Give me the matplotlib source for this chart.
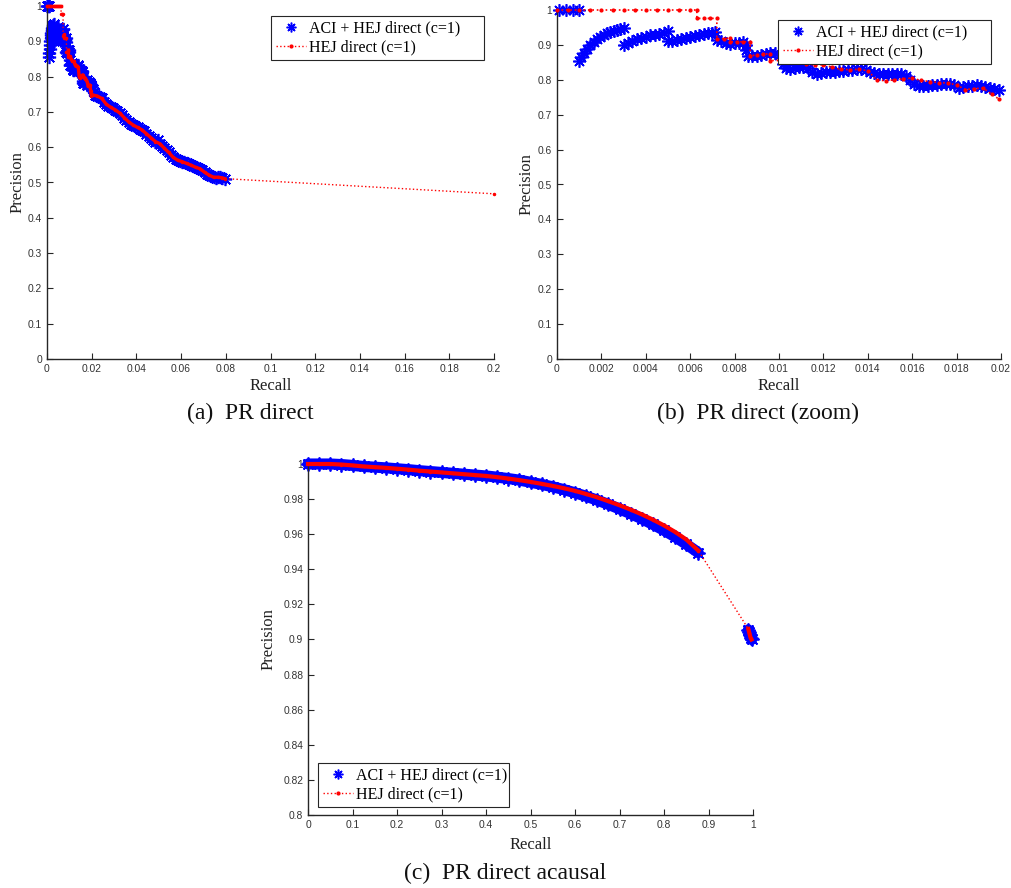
import numpy as np
import matplotlib
matplotlib.use('Agg')
import matplotlib.pyplot as plt
from matplotlib.lines import Line2D
from matplotlib.ticker import FuncFormatter

# ---------------- data ----------------
# PR direct : ACI + HEJ direct (c=1)
recall_direct_aci = [
    0.0001, 0.0004, 0.0007, 0.0010,
    0.0010, 0.0011, 0.0012, 0.00135, 0.0015, 0.00165, 0.0018, 0.00195, 0.0021, 0.00225, 0.0024, 0.00255, 0.0027, 0.00285, 0.0030,
    0.0030, 0.0032, 0.0034, 0.0036, 0.0038, 0.0040, 0.0042, 0.0044, 0.0046, 0.0048, 0.0050,
    0.0050, 0.0052, 0.0054, 0.0056, 0.0058, 0.0060, 0.0062, 0.0064, 0.0066, 0.0068, 0.0070, 0.0071,
    0.0072, 0.0074, 0.0076, 0.0078, 0.0080, 0.0082, 0.0084, 0.0085, 0.0085, 0.0086, 0.0088, 0.0090, 0.0092, 0.0094, 0.0096, 0.0098, 0.0100,
    0.0102, 0.0103, 0.0105, 0.0107, 0.0109, 0.0111, 0.0113, 0.0115, 0.0117, 0.0119,
    0.0121, 0.0123, 0.0125, 0.0127, 0.0129, 0.0131, 0.0133, 0.0135, 0.0137, 0.0139,
    0.0141, 0.0143, 0.0145, 0.0147, 0.0149, 0.0151, 0.0153, 0.0155, 0.0157, 0.0159,
    0.0161, 0.0163, 0.0165, 0.0167, 0.0169, 0.0171, 0.0173, 0.0175, 0.0177, 0.0179,
    0.0181, 0.0183, 0.0185, 0.0187, 0.0189, 0.0191, 0.0193, 0.0195, 0.0197, 0.0199,
    0.0205, 0.0210, 0.0215, 0.0225, 0.0235, 0.0245, 0.0255, 0.0265, 0.0275, 0.0285,
    0.0295, 0.0305, 0.0315, 0.0325, 0.0335, 0.0345, 0.0355, 0.0365, 0.0375, 0.0385,
    0.0395, 0.0405, 0.0415, 0.0425, 0.0435, 0.0445, 0.0455, 0.0465, 0.0475, 0.0485,
    0.0495, 0.0505, 0.0515, 0.0525, 0.0535, 0.0545, 0.0555, 0.0565, 0.0575, 0.0585,
    0.0595, 0.0605, 0.0615, 0.0625, 0.0635, 0.0645, 0.0655, 0.0665, 0.0675, 0.0685,
    0.0695, 0.0705, 0.0715, 0.0725, 0.0735, 0.0745, 0.0755, 0.0765, 0.0775, 0.0785, 0.0795,
]
precision_direct_aci = [
    1.0, 1.0, 1.0, 1.0,
    0.855, 0.866, 0.877, 0.889, 0.900, 0.909, 0.917, 0.923, 0.929, 0.933, 0.937, 0.940, 0.943, 0.945, 0.948,
    0.900, 0.906, 0.912, 0.917, 0.921, 0.924, 0.927, 0.929, 0.931, 0.933, 0.940,
    0.911, 0.912, 0.915, 0.917, 0.919, 0.922, 0.925, 0.928, 0.931, 0.933, 0.935, 0.936,
    0.915, 0.910, 0.905, 0.904, 0.905, 0.906, 0.908, 0.899, 0.886, 0.869, 0.867, 0.869, 0.871, 0.873, 0.876, 0.876, 0.871,
    0.846, 0.834, 0.832, 0.835, 0.837, 0.838, 0.833, 0.822, 0.818, 0.819,
    0.821, 0.822, 0.823, 0.825, 0.826, 0.827, 0.828, 0.830, 0.832, 0.829,
    0.822, 0.819, 0.818, 0.818, 0.817, 0.817, 0.816, 0.816, 0.812, 0.800,
    0.788, 0.783, 0.781, 0.782, 0.784, 0.786, 0.787, 0.788, 0.789, 0.785,
    0.776, 0.778, 0.781, 0.783, 0.785, 0.783, 0.780, 0.777, 0.774, 0.772,
    0.765, 0.755, 0.748, 0.745, 0.742, 0.738, 0.728, 0.722, 0.718, 0.713,
    0.710, 0.706, 0.702, 0.697, 0.690, 0.684, 0.678, 0.672, 0.667, 0.663,
    0.659, 0.656, 0.652, 0.649, 0.645, 0.638, 0.632, 0.627, 0.620, 0.616,
    0.620, 0.610, 0.603, 0.597, 0.592, 0.585, 0.578, 0.571, 0.566, 0.563,
    0.561, 0.559, 0.557, 0.554, 0.551, 0.549, 0.546, 0.543, 0.541, 0.539,
    0.534, 0.529, 0.525, 0.521, 0.518, 0.515, 0.514, 0.515, 0.515, 0.513, 0.511,
]

# PR direct : HEJ direct (c=1)
recall_direct_hej = [
    0.0000, 0.0005, 0.0010, 0.0015, 0.0020, 0.0025, 0.0030, 0.0035, 0.0040, 0.0045, 0.0050, 0.0055, 0.0060, 0.0063,
    0.0063, 0.0066, 0.0069, 0.0072,
    0.0072, 0.0075, 0.0078, 0.0078, 0.0081, 0.0084, 0.0087,
    0.0087, 0.0090, 0.0093, 0.0096, 0.0096, 0.0100, 0.0104, 0.0108, 0.0112, 0.0116,
    0.0120, 0.0124, 0.0128, 0.0132, 0.0136, 0.0140, 0.0144, 0.0148, 0.0152, 0.0156,
    0.0160, 0.0164, 0.0168, 0.0172, 0.0176, 0.0180, 0.0184, 0.0188, 0.0192, 0.0196, 0.0199,
    0.0205, 0.0225, 0.0245, 0.0265, 0.0285, 0.0305, 0.0325, 0.0345, 0.0365, 0.0385,
    0.0405, 0.0425, 0.0445, 0.0465, 0.0485, 0.0505, 0.0525, 0.0545, 0.0565, 0.0585,
    0.0605, 0.0625, 0.0645, 0.0665, 0.0685, 0.0705, 0.0725, 0.0745, 0.0765, 0.0785, 0.0795,
    0.2000,
]
precision_direct_hej = [
    1.0, 1.0, 1.0, 1.0, 1.0, 1.0, 1.0, 1.0, 1.0, 1.0, 1.0, 1.0, 1.0, 1.0,
    0.976, 0.976, 0.976, 0.976,
    0.916, 0.918, 0.920, 0.909, 0.909, 0.909, 0.909,
    0.869, 0.871, 0.873, 0.875, 0.855, 0.856, 0.857, 0.850, 0.845, 0.843,
    0.843, 0.836, 0.830, 0.829, 0.830, 0.826, 0.800, 0.797, 0.800, 0.803,
    0.805, 0.798, 0.795, 0.792, 0.791, 0.785, 0.772, 0.775, 0.776, 0.758, 0.745,
    0.748, 0.745, 0.738, 0.722, 0.713, 0.706, 0.697, 0.684, 0.672, 0.663,
    0.656, 0.649, 0.638, 0.627, 0.616, 0.610, 0.597, 0.585, 0.571, 0.563,
    0.559, 0.554, 0.549, 0.543, 0.539, 0.529, 0.521, 0.515, 0.515, 0.513, 0.511,
    0.468,
]

# PR direct acausal
recall_acausal_aci = [
    0.000, 0.025, 0.050, 0.075, 0.100, 0.125, 0.150, 0.175, 0.200, 0.225,
    0.250, 0.275, 0.300, 0.325, 0.350, 0.375, 0.400, 0.425, 0.450, 0.475,
    0.500, 0.525, 0.550, 0.575, 0.600, 0.625, 0.650, 0.675, 0.700, 0.725,
    0.750, 0.775, 0.800, 0.825, 0.850, 0.877,
    0.9895, 0.9915, 0.9935, 0.9955, 0.9970,
]
precision_acausal_aci = [
    1.0000, 1.0000, 1.0000, 0.9997, 0.9992, 0.9986, 0.9982, 0.9978, 0.9973, 0.9968,
    0.9962, 0.9957, 0.9952, 0.9947, 0.9942, 0.9937, 0.9932, 0.9925, 0.9917, 0.9908,
    0.9896, 0.9884, 0.9870, 0.9854, 0.9836, 0.9816, 0.9794, 0.9770, 0.9744, 0.9717,
    0.9688, 0.9656, 0.9622, 0.9585, 0.9543, 0.9495,
    0.9055, 0.9040, 0.9025, 0.9010, 0.9000,
]
recall_acausal_hej = [
    0.000, 0.025, 0.050, 0.075, 0.100, 0.125, 0.150, 0.175, 0.200, 0.225,
    0.250, 0.275, 0.300, 0.325, 0.350, 0.375, 0.400, 0.425, 0.450, 0.475,
    0.500, 0.525, 0.550, 0.575, 0.600, 0.625, 0.650, 0.675, 0.700, 0.725,
    0.750, 0.775, 0.800, 0.825, 0.850, 0.877,
    0.9895, 0.9920, 0.9945, 0.9965,
]
precision_acausal_hej = [
    1.0000, 1.0000, 1.0000, 0.9997, 0.9992, 0.9986, 0.9982, 0.9978, 0.9973, 0.9968,
    0.9962, 0.9957, 0.9952, 0.9947, 0.9942, 0.9937, 0.9932, 0.9925, 0.9917, 0.9908,
    0.9898, 0.9887, 0.9875, 0.9862, 0.9847, 0.9829, 0.9810, 0.9788, 0.9765, 0.9740,
    0.9713, 0.9683, 0.9650, 0.9613, 0.9570, 0.9507,
    0.9060, 0.9035, 0.9010, 0.9000,
]

series_labels = ['ACI + HEJ direct (c=1)', 'HEJ direct (c=1)']
captions = ['(a)  PR direct', '(b)  PR direct (zoom)', '(c)  PR direct acausal']

xticks_a = [0, 0.02, 0.04, 0.06, 0.08, 0.1, 0.12, 0.14, 0.16, 0.18, 0.2]
xticks_b = [0, 0.002, 0.004, 0.006, 0.008, 0.01, 0.012, 0.014, 0.016, 0.018, 0.02]
xticks_c = [0, 0.1, 0.2, 0.3, 0.4, 0.5, 0.6, 0.7, 0.8, 0.9, 1]
yticks_ab = [0, 0.1, 0.2, 0.3, 0.4, 0.5, 0.6, 0.7, 0.8, 0.9, 1]
yticks_c = [0.8, 0.82, 0.84, 0.86, 0.88, 0.9, 0.92, 0.94, 0.96, 0.98, 1]

# ---------------- style ----------------
SERIF = 'Liberation Serif'
SANS = 'Liberation Sans'
BLUE = '#0000ff'
RED = '#ff0000'
AXC = '#262626'
STAR = (8, 2, 0)

W, H = 1011, 888
fig = plt.figure(figsize=(W / 100, H / 100), dpi=100)
fig.patch.set_facecolor('white')


def add_ax(l, r, t, b):
    return fig.add_axes([l / W, 1 - b / H, (r - l) / W, (b - t) / H])


axA = add_ax(47, 494, 6, 359)
axB = add_ax(557, 1001, 10, 359)
axC = add_ax(308, 753, 464, 815)

fmt = FuncFormatter(lambda v, pos: f'{v:.4g}')


def style(ax, xlim, ylim, xticks, yticks, xlab_y, ylab_x):
    for s in ['top', 'right']:
        ax.spines[s].set_visible(False)
    for s in ['left', 'bottom']:
        ax.spines[s].set_color(AXC)
        ax.spines[s].set_linewidth(1.0)
    ax.set_xlim(xlim)
    ax.set_ylim(ylim)
    ax.set_xticks(xticks)
    ax.set_yticks(yticks)
    ax.xaxis.set_major_formatter(fmt)
    ax.yaxis.set_major_formatter(fmt)
    ax.tick_params(direction='in', length=4.5, width=0.8, color=AXC,
                   labelcolor='#333333', labelsize=7.4, pad=3.5)
    for lab in ax.get_xticklabels() + ax.get_yticklabels():
        lab.set_fontfamily(SANS)
    ax.set_xlabel('Recall', fontsize=12, family=SERIF, color='#222222')
    ax.xaxis.set_label_coords(0.5, xlab_y)
    ax.xaxis.label.set_verticalalignment('center')
    ax.set_ylabel('Precision', fontsize=12, family=SERIF, color='#222222')
    ax.yaxis.set_label_coords(ylab_x, 0.5)
    ax.yaxis.label.set_verticalalignment('center')


def legend(ax, box):
    # box = (x0, top, width) in axes fraction
    x0, top, w = box
    handles = [
        Line2D([], [], ls='none', marker=STAR, ms=7, mew=1.1, color=BLUE),
        Line2D([], [], ls=':', lw=1.0, marker='.', ms=4, color=RED),
    ]
    leg = ax.legend(handles, series_labels, loc='upper left',
                    bbox_to_anchor=(x0, top - 0.5, w, 0.5), mode='expand',
                    prop={'family': SERIF, 'size': 11.5}, frameon=True,
                    fancybox=False, edgecolor=AXC, framealpha=1,
                    handlelength=1.9, handletextpad=0.2, borderpad=0.3,
                    labelspacing=0.18, borderaxespad=0)
    leg.get_frame().set_linewidth(0.8)


rda = np.array(recall_direct_aci)
pda = np.array(precision_direct_aci)
rdh = np.array(recall_direct_hej)
pdh = np.array(precision_direct_hej)
rca = np.array(recall_acausal_aci)
pca = np.array(precision_acausal_aci)
rch = np.array(recall_acausal_hej)
pch = np.array(precision_acausal_hej)

# ---------------- (a) ----------------
axA.plot(rda, pda, ls='none', marker=STAR, ms=9.5, mew=1.2, color=BLUE,
         clip_on=False, zorder=2)
axA.plot(rdh, pdh, ls=':', lw=1.0, marker='.', ms=3, color=RED,
         clip_on=False, zorder=3)
m1 = (rdh <= 0.0063) & (pdh == 1.0)
m2 = (rdh >= 0.0096) & (rdh <= 0.0795)
for m in (m1, m2):
    axA.plot(rdh[m], pdh[m], ls='-', lw=2.4, color=RED, clip_on=False, zorder=3)
style(axA, (0, 0.2), (0, 1), xticks_a, yticks_ab, -0.077, -0.067)
legend(axA, ((271 - 47) / 447, (359 - 16) / 353, 213 / 447))

# ---------------- (b) ----------------
mb = rda <= 0.02
axB.plot(rda[mb], pda[mb], ls='none', marker=STAR, ms=9, mew=1.2,
         color=BLUE, clip_on=False, zorder=2)
mh = rdh <= 0.02
axB.plot(rdh[mh], pdh[mh], ls=':', lw=1.2, marker='.', ms=4, color=RED,
         clip_on=False, zorder=3)
style(axB, (0, 0.02), (0, 1), xticks_b, yticks_ab, -0.077, -0.068)
legend(axB, ((778 - 557) / 444, (359 - 20) / 349, 213 / 444))


# ---------------- (c) ----------------
def segments(r):
    idx = np.where(np.diff(r) > 0.05)[0] + 1
    return np.split(np.arange(len(r)), idx)


for seg in segments(rca):
    axC.plot(rca[seg], pca[seg], ls='-', lw=8, color=BLUE, clip_on=False,
             zorder=2, solid_capstyle='round')
axC.plot(rca, pca, ls='none', marker=STAR, ms=10, mew=1.3, color=BLUE,
         clip_on=False, zorder=2)
axC.plot(rch, pch, ls=':', lw=1.0, marker='.', ms=3, color=RED,
         clip_on=False, zorder=3)
for seg in segments(rch):
    axC.plot(rch[seg], pch[seg], ls='-', lw=3.0, color=RED, clip_on=False,
             zorder=3)
style(axC, (0, 1), (0.8, 1), xticks_c, yticks_c, -0.085, -0.088)
legend(axC, ((318 - 308) / 445, (815 - 763) / 351, 191 / 445))

# ---------------- captions ----------------
fig.text(250 / W, 1 - 413 / H, captions[0], ha='center', va='center',
         family=SERIF, fontsize=17, color='#111111')
fig.text(758 / W, 1 - 413 / H, captions[1], ha='center', va='center',
         family=SERIF, fontsize=17, color='#111111')
fig.text(505 / W, 1 - 873 / H, captions[2], ha='center', va='center',
         family=SERIF, fontsize=17, color='#111111')

fig.savefig('out.png', dpi=100, facecolor='white')
